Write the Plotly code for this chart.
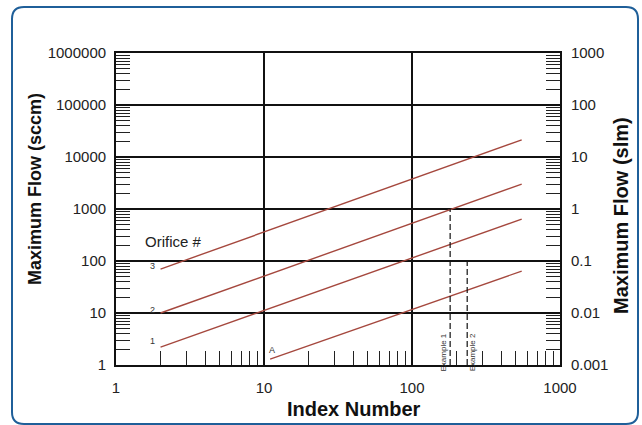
import numpy as np
import plotly.graph_objects as go

# ---- data ----
orifice_names = ["3", "2", "1", "A"]
index_start = [2, 2, 2, 11]
index_end = [551, 551, 551, 551]
flow_start = [70, 10, 2.2, 1.3]          # sccm
flow_end = [21400, 3000, 640, 64]        # sccm

example_names = ["Example 1", "Example 2"]
example_index = [181, 236]
example_flow = [1000, 100]               # sccm (top of dashed line)

left_ticks = [1, 10, 100, 1000, 10000, 100000, 1000000]
left_labels = ["1", "10", "100", "1000", "10000", "100000", "1000000"]
right_ticks = [0.001, 0.01, 0.1, 1, 10, 100, 1000]
right_labels = ["0.001", "0.01", "0.1", "1", "10", "100", "1000"]
x_ticks = [1, 10, 100, 1000]
x_labels = ["1", "10", "100", "1000"]

LINE_COLOR = "#a5483e"
FONT = "Liberation Sans, Arial, sans-serif"

# plot area in pixels
PL, PR, PT, PB = 116, 560, 53, 365
W, H = 642, 425


def px2paper(px, py):
    return (px - PL) / float(PR - PL), 1 - (py - PT) / float(PB - PT)


fig = go.Figure()
for n, x0, x1, y0, y1 in zip(orifice_names, index_start, index_end, flow_start, flow_end):
    fig.add_trace(go.Scatter(x=[x0, x1], y=[y0, y1], mode="lines",
                             line=dict(color=LINE_COLOR, width=1.4),
                             name=n, showlegend=False, hoverinfo="skip"))
for n, xi, yf in zip(example_names, example_index, example_flow):
    fig.add_trace(go.Scatter(x=[xi, xi], y=[1, yf], mode="lines",
                             line=dict(color="#111", width=1.2, dash="6px,3px"),
                             name=n, showlegend=False, hoverinfo="skip"))
# invisible trace to activate the right axis
fig.add_trace(go.Scatter(x=[1, 1000], y=[0.001, 1000], yaxis="y2", mode="lines",
                         line=dict(width=0), opacity=0, showlegend=False, hoverinfo="skip"))

# labels on lines
for n, x0, y0 in zip(orifice_names, index_start, flow_start):
    if n == "A":
        ax, ay = np.log10(x0) + 0.015, np.log10(y0) + 0.17
    else:
        ax, ay = np.log10(x0) - 0.055, np.log10(y0) + 0.06 + (0.05 if n == "1" else 0)
    fig.add_annotation(x=ax, y=ay, xref="x", yref="y", text=n, showarrow=False,
                       font=dict(size=9, color="#333", family=FONT))
fig.add_annotation(x=np.log10(2.43), y=np.log10(234), xref="x", yref="y",
                   text="Orifice #", showarrow=False,
                   font=dict(size=15, color="#222", family=FONT))
for n, xi, off in zip(example_names, example_index, [-0.045, 0.035]):
    fig.add_annotation(x=np.log10(xi) + off, y=0.25, xref="x", yref="y",
                       text=n, textangle=-90, showarrow=False,
                       font=dict(size=8, color="#333", family=FONT))

# axis titles placed as annotations
titles = [("Index Number", 354, 409, 0, 20),
          ("Maximum Flow (sccm)", 35, 189, -90, 18),
          ("Maximum Flow (slm)", 621, 216, -90, 20)]
for t, px, py, ang, sz in titles:
    x, y = px2paper(px, py)
    fig.add_annotation(x=x, y=y, xref="paper", yref="paper", text=f"<b>{t}</b>",
                       textangle=ang, showarrow=False, xanchor="center", yanchor="middle",
                       font=dict(size=sz, color="#111", family=FONT))

axis_common = dict(type="log", showline=True, linecolor="#111", linewidth=1.8,
                   ticks="inside", ticklen=14, tickcolor="#111", tickwidth=1.3,
                   tickfont=dict(size=15, color="#222", family=FONT),
                   zeroline=False)
minor = dict(ticks="inside", ticklen=14, tickcolor="#222", tickwidth=1.1, showgrid=False)

# outer rounded frame
L, R, T, B, r = 12, 638, 7, 424, 12


def P(px, py):
    x, y = px2paper(px, py)
    return f"{x:.5f},{y:.5f}"


path = (f"M {P(L + r, T)} L {P(R - r, T)} Q {P(R, T)} {P(R, T + r)} "
        f"L {P(R, B - r)} Q {P(R, B)} {P(R - r, B)} L {P(L + r, B)} "
        f"Q {P(L, B)} {P(L, B - r)} L {P(L, T + r)} Q {P(L, T)} {P(L + r, T)} Z")

fig.update_layout(
    width=W, height=H,
    margin=dict(l=PL, r=W - PR, t=PT, b=H - PB, autoexpand=False),
    paper_bgcolor="white", plot_bgcolor="white",
    xaxis=dict(**axis_common, range=[0, 3], tickvals=x_ticks, ticktext=x_labels,
               mirror=True, showgrid=True, gridcolor="#111", gridwidth=1.6,
               ticklabelstandoff=8,
               minor=dict(**minor, dtick="D1")),
    yaxis=dict(**axis_common, range=[0, 6], tickvals=left_ticks, ticktext=left_labels,
               mirror=False, showgrid=True, gridcolor="#111", gridwidth=1.6,
               ticklabelstandoff=5,
               minor=dict(**minor, dtick="D1")),
    yaxis2=dict(**axis_common, range=[-3, 3], tickvals=right_ticks, ticktext=right_labels,
                overlaying="y", side="right", showgrid=False, ticklabelstandoff=6,
                minor=dict(**minor, dtick="D1")),
    shapes=[dict(type="path", path=path, xref="paper", yref="paper",
                 line=dict(color="#1f5f99", width=2), layer="below")],
)

fig.write_html("out.html", config={"displayModeBar": False},
               post_script="document.body.style.margin='0';")
